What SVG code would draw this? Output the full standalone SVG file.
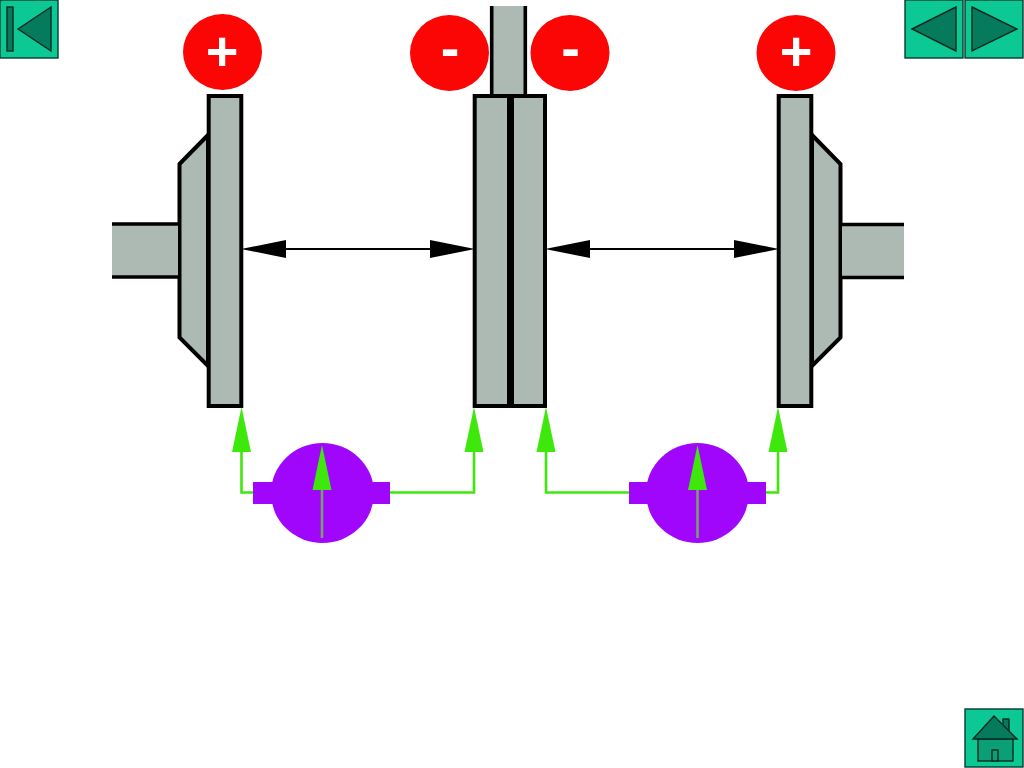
<svg xmlns="http://www.w3.org/2000/svg" width="1024" height="768" viewBox="0 0 1024 768">
<style>
.plate{fill:#adb9b3;stroke:#000;stroke-width:4}
.shaftfill{fill:#adb9b3;stroke:none}
.edge{fill:none;stroke:#000;stroke-width:3.6}
.pole{fill:#fb0505}
.sign{font-family:"Liberation Sans",Arial,sans-serif;font-weight:bold;fill:#fff;text-anchor:middle;font-size:56px}
.btn{fill:#0cc894;stroke:#053d2e;stroke-width:1.4}
.glyph{fill:#057a5c;stroke:#032a20;stroke-width:1.4}
.wall{fill:#0a9f77;stroke:#032a20;stroke-width:1.4}
.gline{fill:none;stroke:#3fe80c;stroke-width:2.6}
.gmid{fill:none;stroke:#7a9f68;stroke-width:2.6}
.ghead{fill:#3fe80c}
.bline{fill:none;stroke:#000;stroke-width:1.8}
.motor{fill:#9f06fb}
</style>
<rect width="1024" height="768" fill="#fff"/>
<g id="btn-first"><rect class="btn" x="0" y="0" width="58" height="58"/><rect class="glyph" x="7" y="7" width="6" height="44"/><polygon class="glyph" points="18,29 51,7 51,51"/></g>
<g id="btn-prev"><rect class="btn" x="905" y="0" width="58" height="58"/><polygon class="glyph" points="912,29 956,7 956,51"/></g>
<g id="btn-next"><rect class="btn" x="965" y="0" width="58" height="58"/><polygon class="glyph" points="972,7 1017,29 972,51"/></g>
<g id="btn-home"><rect class="btn" x="965" y="709" width="58" height="58"/><rect class="glyph" x="1003" y="719" width="6" height="14"/><rect class="wall" x="978" y="739" width="35" height="22"/><polygon class="glyph" points="973,739 994,716 1017,739"/><rect class="wall" x="992" y="750" width="6" height="11"/></g>
<g id="disc-left"><polygon class="plate" points="179.500,164 208,135 208,366 179.500,337.500"/><rect class="shaftfill" x="112" y="224" width="66" height="53"/><path class="edge" d="M112,224H179M112,277H179"/><rect class="plate" x="208.700" y="96" width="32.600" height="310"/></g>
<g id="disc-centre"><rect class="shaftfill" x="492" y="6" width="33" height="90"/><path class="edge" d="M491.700,6V95M525.300,6V95"/><rect class="plate" x="474.700" y="96" width="36" height="310"/><rect class="plate" x="510.300" y="96" width="34.700" height="310"/><rect x="507" y="94" width="7" height="314" fill="#000"/></g>
<g id="disc-right"><polygon class="plate" points="812,135 840.500,164 840.500,337.500 812,366"/><rect class="shaftfill" x="842" y="224" width="62" height="53"/><path class="edge" d="M841,224.500H904M841,277.500H904"/><rect class="plate" x="778.700" y="96" width="32.600" height="310"/></g>
<g id="pole-1"><ellipse class="pole" cx="222.500" cy="52" rx="39.500" ry="38"/><text class="sign" x="222" y="70">+</text></g>
<g id="pole-2"><ellipse class="pole" cx="449.500" cy="53" rx="39.500" ry="38"/><text class="sign" x="450" y="67">-</text></g>
<g id="pole-3"><ellipse class="pole" cx="570" cy="53" rx="39.500" ry="38"/><text class="sign" x="570.500" y="67">-</text></g>
<g id="pole-4"><ellipse class="pole" cx="796" cy="53" rx="39.500" ry="38"/><text class="sign" x="796" y="70">+</text></g>
<g id="motor-1"><rect class="motor" x="253" y="482" width="137" height="22"/><ellipse class="motor" cx="322.500" cy="493" rx="51.500" ry="50"/></g>
<g id="motor-2"><rect class="motor" x="629" y="482" width="137" height="22"/><ellipse class="motor" cx="697.500" cy="493" rx="51.500" ry="50"/></g>
<g id="connectors">
<path class="bline" d="M270,249H450"/><polygon points="241,249 286,240 286,258"/><polygon points="475,249 430,240 430,258"/>
<path class="bline" d="M575,249H755"/><polygon points="545,249 590,240 590,258"/><polygon points="779,249 734,240 734,258"/>
<path class="gline" d="M253,492.500H241.500V450"/><polygon class="ghead" points="241.500,407 232,452 251,452"/>
<path class="gline" d="M390,492.500H474V450"/><polygon class="ghead" points="474,407 464.500,452 483.500,452"/>
<path class="gline" d="M629,492.500H546V450"/><polygon class="ghead" points="546,407 536.500,452 555.500,452"/>
<path class="gline" d="M766,492.500H778V450"/><polygon class="ghead" points="778,407 768.500,452 787.500,452"/>
<path class="gmid" d="M322,538V488"/><polygon class="ghead" points="322,445 312.500,490 331.500,490"/>
<path class="gmid" d="M697.500,538V488"/><polygon class="ghead" points="697.500,445 688,490 707,490"/>
</g>
</svg>
